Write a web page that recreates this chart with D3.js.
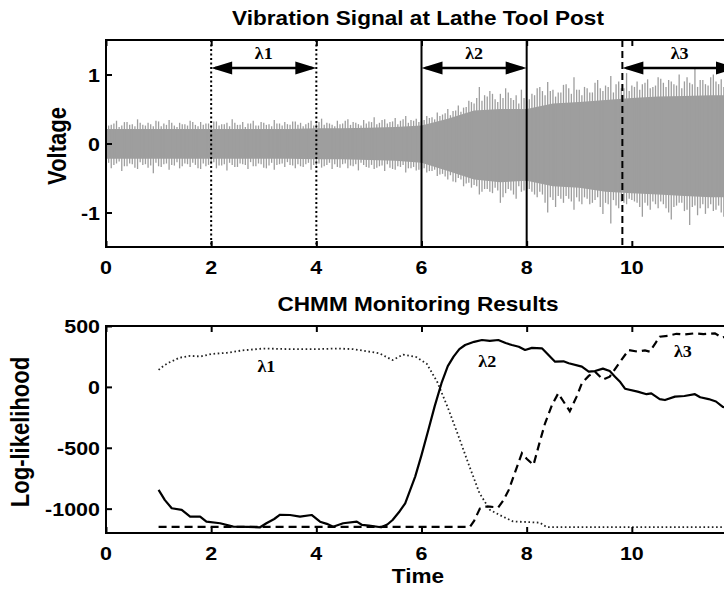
<!DOCTYPE html>
<html>
<head>
<meta charset="utf-8">
<script src="https://cdn.jsdelivr.net/npm/d3@7"></script>
<style>
  body { margin: 0; background: #fff; }
  svg { display: block; }
</style>
</head>
<body>
<div class="canvas"></div>
<script>
// ---- data ----
const xTicks = [0, 2, 4, 6, 8, 10, 12];
const voltTicks = [-1, 0, 1];
const llTicks = [-1000, -500, 0, 500];

// vibration signal: spike tips every 0.1 s (t = 0 .. 12)
const spikeStep = 0.1;
const spikeUpper = [
  0.30, 0.27, 0.33, 0.26, 0.31, 0.28, 0.35, 0.27, 0.30, 0.25,
  0.32, 0.29, 0.34, 0.26, 0.30, 0.28, 0.33, 0.27, 0.31, 0.29,
  0.26, 0.32, 0.28, 0.30, 0.35, 0.27, 0.31, 0.29, 0.33, 0.26,
  0.30, 0.28, 0.34, 0.29, 0.31, 0.27, 0.32, 0.30, 0.28, 0.33,
  0.29, 0.36, 0.30, 0.27, 0.33, 0.29, 0.35, 0.31, 0.28, 0.34,
  0.32, 0.38, 0.30, 0.35, 0.31, 0.37, 0.33, 0.40, 0.34, 0.36,
  0.33, 0.40, 0.38, 0.45, 0.42, 0.50, 0.47, 0.55, 0.52, 0.62,
  0.58, 0.82, 0.70, 0.76, 0.64, 0.72, 0.80, 0.66, 0.70, 0.78,
  0.62, 0.72, 0.80, 0.76, 0.89, 0.78, 0.74, 0.85, 0.80, 0.96,
  0.78, 0.82, 0.74, 0.88, 0.80, 0.84, 0.98, 0.86, 0.80, 1.02,
  0.84, 0.90, 0.86, 0.93, 0.82, 0.96, 0.88, 0.92, 0.86, 1.00,
  0.90, 0.88, 1.08, 0.92, 0.86, 0.96, 0.90, 0.93, 0.88, 0.95,
  0.90
];
const spikeLower = [
  -0.32, -0.36, -0.29, -0.40, -0.33, -0.30, -0.37, -0.31, -0.35, -0.43,
  -0.33, -0.30, -0.38, -0.32, -0.36, -0.29, -0.34, -0.31, -0.37, -0.33,
  -0.30, -0.36, -0.32, -0.39, -0.31, -0.34, -0.30, -0.37, -0.33, -0.29,
  -0.35, -0.32, -0.38, -0.30, -0.34, -0.31, -0.36, -0.33, -0.30, -0.38,
  -0.32, -0.35, -0.31, -0.37, -0.34, -0.30, -0.36, -0.33, -0.39, -0.31,
  -0.35, -0.37, -0.33, -0.40, -0.35, -0.38, -0.34, -0.42, -0.36, -0.39,
  -0.37, -0.42, -0.40, -0.47, -0.44, -0.52, -0.55, -0.50, -0.62, -0.57,
  -0.60, -0.74, -0.66, -0.70, -0.64, -0.86, -0.72, -0.68, -0.80, -0.70,
  -0.66, -0.70, -0.78, -0.74, -1.00, -0.82, -0.76, -0.86, -0.80, -0.96,
  -0.84, -0.78, -0.88, -0.82, -0.92, -0.86, -1.16, -0.90, -0.84, -0.88,
  -0.82, -0.86, -1.06, -0.90, -0.84, -0.94, -0.88, -1.00, -0.92, -0.86,
  -0.98, -1.18, -0.90, -0.94, -1.02, -0.88, -0.96, -1.00, -0.92, -1.04,
  -0.94
];
// second set of spike tips, half-way between the first (t = 0.05 .. 11.95)
const spikeUpper2 = [
  0.26, 0.29, 0.24, 0.31, 0.27, 0.25, 0.30, 0.26, 0.28, 0.33,
  0.25, 0.27, 0.30, 0.24, 0.28, 0.26, 0.31, 0.25, 0.27, 0.29,
  0.32, 0.26, 0.28, 0.25, 0.30, 0.27, 0.24, 0.29, 0.26, 0.31,
  0.27, 0.25, 0.29, 0.26, 0.28, 0.32, 0.27, 0.25, 0.30, 0.26,
  0.31, 0.27, 0.29, 0.25, 0.28, 0.33, 0.27, 0.30, 0.26, 0.29,
  0.31, 0.28, 0.34, 0.29, 0.32, 0.28, 0.35, 0.30, 0.33, 0.31,
  0.34, 0.37, 0.35, 0.40, 0.44, 0.41, 0.48, 0.46, 0.53, 0.60,
  0.66, 0.62, 0.68, 0.72, 0.60, 0.66, 0.74, 0.63, 0.58, 0.66,
  0.64, 0.70, 0.82, 0.70, 0.76, 0.68, 0.74, 0.86, 0.72, 0.78,
  0.70, 0.80, 0.74, 0.92, 0.76, 0.82, 0.74, 0.90, 0.80, 0.76,
  0.82, 0.78, 0.88, 0.80, 0.84, 0.94, 0.82, 0.90, 0.84, 0.80,
  0.96, 0.86, 0.82, 0.92, 0.84, 1.00, 0.86, 0.82, 0.90, 0.86
];
const spikeLower2 = [
  -0.28, -0.31, -0.26, -0.33, -0.29, -0.35, -0.27, -0.30, -0.32, -0.28,
  -0.34, -0.29, -0.31, -0.27, -0.33, -0.30, -0.28, -0.36, -0.29, -0.31,
  -0.27, -0.32, -0.30, -0.28, -0.34, -0.29, -0.31, -0.27, -0.33, -0.30,
  -0.36, -0.28, -0.31, -0.29, -0.27, -0.32, -0.30, -0.34, -0.28, -0.31,
  -0.29, -0.33, -0.28, -0.30, -0.35, -0.29, -0.32, -0.30, -0.28, -0.34,
  -0.31, -0.35, -0.32, -0.30, -0.37, -0.33, -0.31, -0.36, -0.34, -0.38,
  -0.36, -0.40, -0.38, -0.45, -0.48, -0.46, -0.56, -0.52, -0.58, -0.64,
  -0.62, -0.70, -0.66, -0.72, -0.68, -0.78, -0.66, -0.74, -0.62, -0.68,
  -0.66, -0.74, -0.70, -0.86, -0.78, -0.92, -0.80, -0.76, -0.84, -0.78,
  -0.88, -0.80, -0.86, -0.78, -1.02, -0.88, -0.82, -0.94, -0.86, -0.80,
  -0.84, -0.92, -0.86, -0.96, -0.88, -0.84, -0.94, -1.10, -0.90, -0.86,
  -0.96, -0.92, -1.04, -0.88, -0.94, -0.98, -0.90, -1.06, -0.92, -0.96
];
// dense core of the signal every 0.5 s
const bandStep = 0.5;
const bandUpper = [0.21, 0.21, 0.21, 0.21, 0.21, 0.21, 0.21, 0.21, 0.22, 0.22, 0.23, 0.24,
  0.26, 0.36, 0.48, 0.50, 0.50, 0.58, 0.60, 0.63, 0.66, 0.68, 0.69, 0.70, 0.70];
const bandLower = [-0.22, -0.22, -0.22, -0.22, -0.22, -0.22, -0.22, -0.22, -0.23, -0.23, -0.24, -0.25,
  -0.28, -0.40, -0.52, -0.56, -0.54, -0.62, -0.64, -0.70, -0.72, -0.74, -0.76, -0.78, -0.78];

// training regions shown on the signal
const regionNames = ['λ1', 'λ2', 'λ3'];
const regionStart = [2, 6, 9.82];
const regionEnd = [4, 8, 12];

// CHMM log-likelihoods [time, value]
const lambda1 = [[1.0, 140], [1.1, 175], [1.2, 200], [1.4, 240], [1.6, 255], [1.8, 250], [2.0, 270],
  [2.3, 280], [2.6, 300], [3.0, 315], [3.5, 310], [4.0, 310], [4.4, 315], [4.7, 310], [5.0, 290],
  [5.2, 275], [5.45, 220], [5.65, 265], [5.9, 245], [6.1, 190], [6.3, 40], [6.5, -170], [6.7, -400],
  [6.9, -640], [7.1, -870], [7.3, -1010], [7.5, -1055], [7.74, -1105], [8.0, -1110], [8.25, -1115],
  [8.38, -1152], [9, -1152], [10, -1152], [11, -1152], [12, -1152]];
const lambda2 = [[1.0, -846], [1.12, -930], [1.25, -997], [1.44, -1010], [1.6, -1065], [1.79, -1065],
  [1.91, -1107], [2.17, -1120], [2.42, -1148], [2.7, -1150], [2.93, -1153], [3.05, -1120], [3.2, -1085],
  [3.31, -1050], [3.5, -1052], [3.69, -1065], [3.91, -1052], [4.07, -1107], [4.2, -1125], [4.32, -1148],
  [4.51, -1120], [4.77, -1107], [4.87, -1134], [5.0, -1140], [5.23, -1153], [5.35, -1130], [5.45, -1093],
  [5.57, -1030], [5.69, -956], [5.88, -737], [6.0, -560], [6.13, -354], [6.25, -160], [6.38, 30],
  [6.5, 170], [6.61, 248], [6.72, 310], [6.83, 344], [7.0, 370], [7.15, 385], [7.3, 378], [7.46, 385],
  [7.6, 360], [7.72, 344], [7.85, 330], [7.97, 303], [8.1, 320], [8.29, 317], [8.42, 260], [8.54, 207],
  [8.7, 210], [8.8, 194], [9.05, 166], [9.18, 125], [9.3, 130], [9.45, 150], [9.58, 130], [9.68, 84],
  [9.78, 40], [9.87, -15], [10.11, -39], [10.28, -60], [10.37, -53], [10.53, -100], [10.63, -108],
  [10.82, -80], [11.0, -75], [11.2, -60], [11.3, -85], [11.46, -100], [11.6, -120], [11.73, -165],
  [11.85, -175], [12.0, -190]];
const lambda3 = [[1.0, -1150], [6.92, -1150], [7.0, -1100], [7.11, -1000], [7.21, -984], [7.3, -984],
  [7.46, -990], [7.56, -930], [7.66, -846], [7.78, -700], [7.91, -545], [8.0, -590], [8.13, -641],
  [8.25, -450], [8.35, -299], [8.48, -150], [8.6, -53], [8.7, -120], [8.82, -200], [8.95, -80],
  [9.05, 30], [9.18, 90], [9.3, 125], [9.45, 60], [9.58, 84], [9.75, 190], [9.94, 303], [10.1, 290],
  [10.25, 300], [10.34, 289], [10.45, 360], [10.53, 412], [10.7, 420], [10.85, 436], [11.0, 430],
  [11.2, 440], [11.36, 434], [11.58, 440], [11.71, 405], [11.85, 420], [12.0, 410]];
// where the curve names sit [time, value]
const curveLabels = [[3.05, 125], [7.25, 160], [10.97, 245]];

// ---- layout ----
const width = 724, height = 589;
const left = 106, right = 737;
const top1 = 40, bottom1 = 247;   // signal panel
const top2 = 326, bottom2 = 533;  // log-likelihood panel
const SX = 1.13;                  // the source figure is a bit stretched sideways
const sans = 'Liberation Sans, Arial, Helvetica, sans-serif';
const serif = 'Liberation Serif, Times New Roman, serif';
const grey = '#9e9e9e';

const svg = d3.select('.canvas').append('svg')
  .attr('width', width)
  .attr('height', height);

const x = d3.scaleLinear().domain([0, 12]).range([left, right]);
const yV = d3.scaleLinear().domain([-1.5, 1.5]).range([bottom1, top1]);
const yL = d3.scaleLinear().domain([-1200, 500]).range([bottom2, top2]);

// text helper, stretched horizontally like the original
function label(str, px, py, size, opts = {}) {
  return svg.append('text')
    .attr('transform', `translate(${px},${py}) scale(${SX},1)` + (opts.rotate ? ` rotate(${opts.rotate})` : ''))
    .attr('text-anchor', opts.anchor || 'middle')
    .style('font-family', opts.family || sans)
    .style('font-weight', 'bold')
    .style('font-size', size + 'px')
    .attr('fill', '#000')
    .text(str);
}

function frame(yScale, yTickVals, top, bottom) {
  const g = svg.append('g');
  g.append('g').attr('transform', `translate(0,${bottom})`)
    .call(d3.axisBottom(x).tickValues(xTicks).tickSize(-6).tickFormat(''));
  g.append('g').attr('transform', `translate(0,${top})`)
    .call(d3.axisTop(x).tickValues(xTicks).tickSize(-6).tickFormat(''));
  g.append('g').attr('transform', `translate(${left},0)`)
    .call(d3.axisLeft(yScale).tickValues(yTickVals).tickSize(-6).tickFormat(''));
  g.selectAll('.domain').remove();
  g.selectAll('.tick line').attr('stroke', '#000').attr('stroke-width', 2);
  g.append('rect')
    .attr('x', left).attr('y', top)
    .attr('width', right - left).attr('height', bottom - top)
    .attr('fill', 'none').attr('stroke', '#000').attr('stroke-width', 2);

  // the 12 label falls outside the cropped figure
  xTicks.filter(t => x(t) < width - 10)
    .forEach(t => label(String(t), x(t), bottom + 27, 19));
  yTickVals.forEach(v => label(String(v), left - 6, yScale(v) + 7, 19, {anchor: 'end'}));
}

// ---- top panel: vibration signal ----
const core = d3.area()
  .x((d, i) => x(i * bandStep))
  .y0((d, i) => yV(bandLower[i]))
  .y1(d => yV(d));
svg.append('path')
  .datum(bandUpper)
  .attr('d', core)
  .attr('fill', grey);

function spikes(upper, lower, offset) {
  svg.append('g').selectAll('line')
    .data(upper)
    .enter().append('line')
      .attr('x1', (d, i) => x(offset + i * spikeStep))
      .attr('x2', (d, i) => x(offset + i * spikeStep))
      .attr('y1', (d, i) => yV(lower[i]))
      .attr('y2', d => yV(d))
      .attr('stroke', grey)
      .attr('stroke-width', 1.3);
}
spikes(spikeUpper, spikeLower, 0);
spikes(spikeUpper2, spikeLower2, spikeStep / 2);

// region boundaries
const boundaryDash = ['2,2.5', null, '7,4'];
regionStart.forEach((s, i) => {
  [s, regionEnd[i]].forEach(t => {
    if (t >= 12) return;
    svg.append('line')
      .attr('x1', x(t)).attr('x2', x(t))
      .attr('y1', top1).attr('y2', bottom1)
      .attr('stroke', '#000').attr('stroke-width', 2)
      .attr('stroke-dasharray', boundaryDash[i]);
  });
});

// double-headed arrows with names
const arrowY = top1 + 28;
const headLen = 21, headHalf = 6.5;
regionStart.forEach((s, i) => {
  const a = x(s), b = x(regionEnd[i]);
  svg.append('line')
    .attr('x1', a + 4).attr('x2', b - 4)
    .attr('y1', arrowY).attr('y2', arrowY)
    .attr('stroke', '#000').attr('stroke-width', 2.5);
  svg.append('path')
    .attr('d', `M${a},${arrowY} L${a + headLen},${arrowY - headHalf} L${a + headLen},${arrowY + headHalf} Z` +
               `M${b},${arrowY} L${b - headLen},${arrowY - headHalf} L${b - headLen},${arrowY + headHalf} Z`)
    .attr('fill', '#000');
  label(regionNames[i], (a + b) / 2, top1 + 19, 16, {family: serif});
});

frame(yV, voltTicks, top1, bottom1);
label('Vibration Signal at Lathe Tool Post', 418, 25, 20);
label('Voltage', 66, 146, 22, {rotate: -90});

// ---- bottom panel: CHMM monitoring ----
const line = d3.line().x(d => x(d[0])).y(d => yL(d[1]));

svg.append('path').datum(lambda1).attr('d', line)
  .attr('fill', 'none').attr('stroke', '#222')
  .attr('stroke-width', 1.8).attr('stroke-dasharray', '1.6,2.6');
svg.append('path').datum(lambda2).attr('d', line)
  .attr('fill', 'none').attr('stroke', '#000')
  .attr('stroke-width', 2.2).attr('stroke-linejoin', 'round');
svg.append('path').datum(lambda3).attr('d', line)
  .attr('fill', 'none').attr('stroke', '#000')
  .attr('stroke-width', 2.2).attr('stroke-dasharray', '8,5');

curveLabels.forEach((p, i) => label(regionNames[i], x(p[0]), yL(p[1]), 16, {family: serif}));

frame(yL, llTicks, top2, bottom2);
label('CHMM Monitoring Results', 418, 311, 20);
label('Log-likelihood', 29, 432, 22, {rotate: -90});
label('Time', 418, 583, 20);
</script>
</body>
</html>
